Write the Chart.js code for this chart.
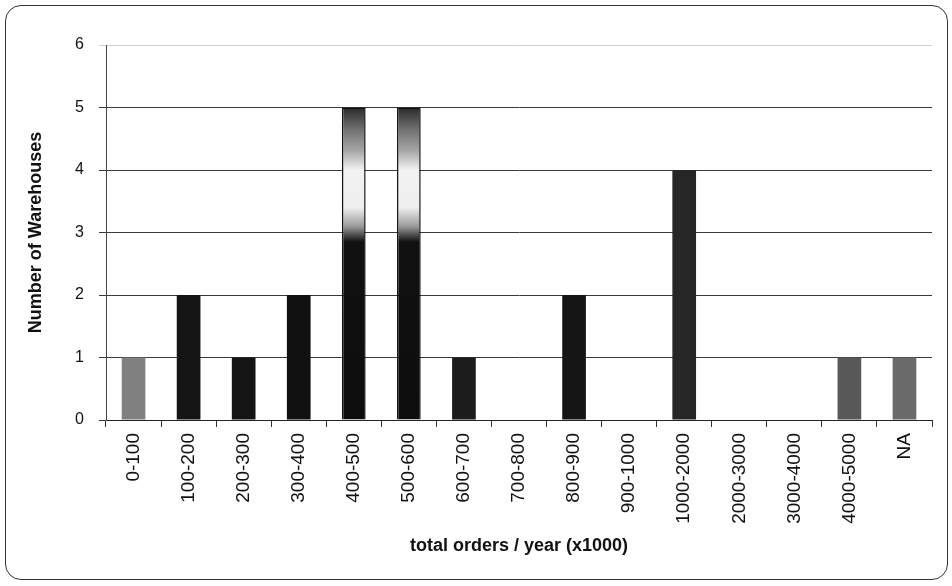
<!DOCTYPE html>
<html>
<head>
<meta charset="utf-8">
<script src="https://cdn.jsdelivr.net/npm/chart.js@4/dist/chart.umd.min.js"></script>
<style>
  html, body { margin: 0; padding: 0; background: #fff; }
  #wrap { position: relative; width: 952px; height: 586px; }
  #frame {
    position: absolute; left: 5px; top: 5px; width: 941px; height: 573px;
    border: 1.5px solid #333; border-radius: 16px; pointer-events: none;
  }
  canvas { position: absolute; left: 0; top: 0; }
</style>
</head>
<body>
<div id="wrap">
  <canvas id="chart" width="952" height="586"></canvas>
  <div id="frame"></div>
</div>
<script>
// order-volume bins (x1000 orders per year)
const bins = ['0-100', '100-200', '200-300', '300-400', '400-500', '500-600', '600-700',
  '700-800', '800-900', '900-1000', '1000-2000', '2000-3000', '3000-4000', '4000-5000', 'NA'];
const warehouses = [1, 2, 1, 2, 5, 5, 1, 0, 2, 0, 4, 0, 0, 1, 1];
const yTicks = [0, 1, 2, 3, 4, 5, 6];

// scanned look: most bars near black, a few halftone grey
const barShade = ['#808080', '#141414', '#141414', '#111', 'grad', 'grad', '#1c1c1c',
  '#111', '#151515', '#111', '#262626', '#111', '#111', '#585858', '#6a6a6a'];

const FONT = 'Liberation Sans, Arial, sans-serif';

function fadedBar(ctx) {
  const chart = ctx.chart;
  const y = chart.scales.y;
  if (!y || !chart.chartArea) return '#111';
  const y0 = y.getPixelForValue(0), y5 = y.getPixelForValue(5);
  const g = chart.ctx.createLinearGradient(0, y0, 0, y5);
  g.addColorStop(0, '#0d0d0d');
  g.addColorStop(0.57, '#111');
  g.addColorStop(0.62, '#9a9a9a');
  g.addColorStop(0.68, '#efefef');
  g.addColorStop(0.80, '#f2f2f2');
  g.addColorStop(0.86, '#a8a8a8');
  g.addColorStop(0.93, '#707070');
  g.addColorStop(1, '#2a2a2a');
  return g;
}

const ctx = document.getElementById('chart');
new Chart(ctx, {
  type: 'bar',
  data: {
    labels: bins,
    datasets: [{
      label: 'Warehouses',
      data: warehouses,
      backgroundColor: c => barShade[c.dataIndex] === 'grad' ? fadedBar(c) : barShade[c.dataIndex],
      borderColor: '#111',
      borderWidth: c => barShade[c.dataIndex] === 'grad' ? 1.5 : 0,
      barPercentage: 0.43,
      categoryPercentage: 1
    }]
  },
  options: {
    responsive: false,
    animation: false,
    layout: { padding: { left: 0, right: 20, top: 45, bottom: 0 } },
    plugins: { legend: { display: false }, tooltip: { enabled: false } },
    scales: {
      x: {
        afterFit: s => { s.height = 166; },
        grid: { offset: true, drawOnChartArea: false, drawTicks: true, tickLength: 7, color: '#333' },
        border: { color: '#222', width: 1 },
        ticks: {
          minRotation: 90, maxRotation: 90, padding: 6, color: '#111',
          font: { family: FONT, size: 19 }
        },
        title: {
          display: true, text: 'total orders / year (x1000)', color: '#111',
          font: { family: FONT, size: 18, weight: 'bold' },
          padding: { top: 0, bottom: 29 }
        }
      },
      y: {
        min: 0, max: 6,
        afterFit: s => { s.width = 106; },
        afterBuildTicks: s => { s.ticks = yTicks.map(v => ({ value: v })); },
        grid: {
          color: c => (c.tick && c.tick.value === 6) ? '#d0d0d0' : '#3a3a3a',
          lineWidth: 1, tickLength: 7
        },
        border: { color: '#444', width: 1 },
        ticks: {
          padding: 15, color: '#111',
          font: { family: FONT, size: 16 }
        },
        title: {
          display: true, text: 'Number of Warehouses', color: '#111',
          font: { family: FONT, size: 18, weight: 'bold' },
          padding: { top: 25, bottom: 0 }
        }
      }
    }
  }
});
</script>
</body>
</html>
